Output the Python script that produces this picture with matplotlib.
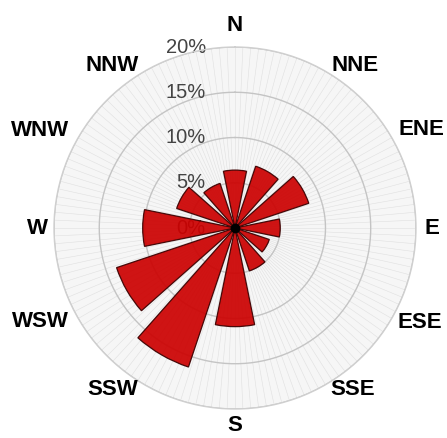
import numpy as np
import matplotlib
matplotlib.use("Agg")
import matplotlib.pyplot as plt

# wind frequency (%) per 30 degree sector, clockwise from north
bar_dirs = [0, 30, 60, 90, 120, 150, 180, 210, 240, 270, 300, 330]
bar_freq = [6.4, 7.2, 8.6, 5.0, 4.0, 5.0, 10.9, 16.2, 13.8, 10.2, 6.8, 5.2]

compass_labels = ["N", "NNE", "ENE", "E", "ESE", "SSE", "S", "SSW",
                  "WSW", "W", "WNW", "NNW"]
# label placement (angle in degrees, radius in % units)
compass_dirs = [0, 36.4, 62.3, 90, 117, 144, 180, 217, 244.3, 270, 296.7, 323]
compass_r = [22.4, 22.3, 23.3, 21.8, 22.9, 22.1, 21.85, 22.4, 23.9, 21.8, 24.1, 22.5]

ring_vals = [0, 5, 10, 15, 20]
ring_labels = ["0%", "5%", "10%", "15%", "20%"]

fig = plt.figure(figsize=(4.47, 4.38), dpi=100)
ax = fig.add_axes([0.1208, 0.0662, 0.8098, 0.8265], projection="polar")
ax.set_theta_zero_location("N")
ax.set_theta_direction(-1)
ax.set_ylim(0, 20)
ax.set_facecolor("#f6f6f6")
ax.grid(False)
ax.set_xticks([])
ax.set_yticks([])
ax.spines["polar"].set_color("#cfcfcf")
ax.spines["polar"].set_linewidth(1.0)

# fine radial hatching of the background
for a in np.arange(0, 360, 2.5):
    ax.plot([np.radians(a)] * 2, [2, 20], color="#e0e0e0", lw=0.4, zorder=0)

# rings
th = np.linspace(0, 2 * np.pi, 400)
for r in ring_vals[1:]:
    ax.plot(th, np.full_like(th, r), color="#c4c4c4", lw=1.0, zorder=1)

# ring labels, left of the north line
for r, lab in zip(ring_vals, ring_labels):
    ax.annotate(lab, xy=(0, r), xytext=(-21, 0), textcoords="offset points",
                ha="right", va="center", fontsize=14.5, color="#444444",
                family="Liberation Sans", zorder=2)

ax.bar(np.radians(bar_dirs), bar_freq, width=np.radians(23), bottom=0,
       color="#cc0000", edgecolor="#3a0000", linewidth=0.9, alpha=0.92,
       zorder=3)
ax.plot([0], [0], "o", color="black", ms=6, zorder=4)

for a, r, lab in zip(compass_dirs, compass_r, compass_labels):
    ax.text(np.radians(a), r, lab, ha="center", va="center",
            fontsize=16, fontweight="bold", family="Liberation Sans",
            color="black", clip_on=False)

fig.savefig("out.png", dpi=100)
